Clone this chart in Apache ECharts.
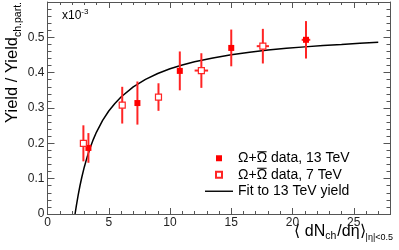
<!DOCTYPE html>
<html><head><meta charset="utf-8">
<script src="https://cdn.jsdelivr.net/npm/echarts@6/dist/echarts.min.js"></script>
<style>html,body{margin:0;padding:0;background:#fff}#c{width:399px;height:250px}</style>
</head><body><div id="c"></div>
<script>
// 13 TeV data (filled squares), values in units of 1e-3
const x13 = [3.34, 7.34, 10.8, 15.0, 21.1];
const y13 = [0.187, 0.314, 0.405, 0.470, 0.493];
const yErr13 = [0.042, 0.061, 0.055, 0.052, 0.053];
const xErr13 = [0, 0, 0, 0, 0.35];
// 7 TeV data (open squares)
const x7 = [2.93, 6.1, 9.06, 12.56, 17.58];
const y7 = [0.200, 0.308, 0.331, 0.406, 0.475];
const yErr7 = [0.051, 0.052, 0.039, 0.049, 0.049];
const xErr7 = [0, 0, 0, 0.55, 0.5];
// Fit curve
const fitX = [2.25, 2.35, 2.5, 2.65, 2.8, 3.0, 3.25, 3.5, 3.75, 4, 4.5, 5, 5.5, 6, 7, 8, 9, 10, 11, 12, 13.5, 15, 16.5, 18, 19.5, 21, 22.5, 24, 25.5, 27];
const fitY = [0, 0.0226, 0.053, 0.080, 0.104, 0.1325, 0.163, 0.189, 0.212, 0.232, 0.265, 0.2915, 0.313, 0.331, 0.360, 0.381, 0.3975, 0.411, 0.4216, 0.431, 0.4417, 0.4505, 0.4577, 0.464, 0.4688, 0.473, 0.477, 0.480, 0.4833, 0.486];
// Axis ranges / ticks
const xRange = [0, 28];
const yRange = [0, 0.6];
const xMajor = 5, xMinor = 1, yMajor = 0.1;
const names = ['Ω+Ω data, 13 TeV', 'Ω+Ω data, 7 TeV', 'Fit to 13 TeV yield'];

const FONT = '"Liberation Sans", Arial, Helvetica, sans-serif';
const AX = '#555';
const RED = '#ff2424';
const LEG_LEFT = 205, LEG_TOP = 150, LEG_ROW = 16.5, LEG_FS = 14;

function zip(...a) { return a[0].map((_, i) => a.map(arr => arr[i])); }

function errRender(params, api) {
  const x = api.value(0), y = api.value(1), ey = api.value(2), ex = api.value(3);
  const children = [];
  const p1 = api.coord([x, y - ey]), p2 = api.coord([x, y + ey]);
  children.push({ type: 'line', shape: { x1: p1[0], y1: p1[1], x2: p2[0], y2: p2[1] }, style: { stroke: RED, lineWidth: 2 } });
  if (ex > 0) {
    const q1 = api.coord([x - ex, y]), q2 = api.coord([x + ex, y]);
    children.push({ type: 'line', shape: { x1: q1[0], y1: q1[1], x2: q2[0], y2: q2[1] }, style: { stroke: RED, lineWidth: 2 } });
  }
  return { type: 'group', children };
}

function xAx(pos, interval, len, labels) {
  return {
    type: 'value', position: pos, min: xRange[0], max: xRange[1], interval: interval,
    axisLine: { show: true, onZero: false, lineStyle: { color: AX, width: 1 } },
    axisTick: { show: true, inside: true, length: len, lineStyle: { color: AX } },
    axisLabel: labels ? { show: true, margin: 3, fontSize: 12, color: '#222', fontFamily: FONT, showMaxLabel: false,
      formatter: v => (Math.abs(v % xMajor) < 1e-9 ? String(v) : '') } : { show: false },
    splitLine: { show: false }
  };
}
function yAx(pos, labels) {
  return {
    type: 'value', position: pos, min: yRange[0], max: yRange[1], interval: yMajor,
    axisLine: { show: true, onZero: false, lineStyle: { color: AX, width: 1 } },
    axisTick: { show: true, inside: true, length: 7, lineStyle: { color: AX } },
    minorTick: { show: true, splitNumber: 5, length: 4, lineStyle: { color: AX } },
    axisLabel: labels ? { show: true, margin: 3, fontSize: 12, color: '#222', fontFamily: FONT, showMaxLabel: false } : { show: false },
    splitLine: { show: false }
  };
}

// overline bars over the anti-Omega in the first two legend entries
const mctx = document.createElement('canvas').getContext('2d');
mctx.font = LEG_FS + 'px ' + FONT;
const ovStart = mctx.measureText('Ω+').width;
const ovW = mctx.measureText('Ω').width;
const textX = LEG_LEFT + 28 + 5;
const overlines = [0, 1].map(i => {
  const cy = LEG_TOP + LEG_ROW / 2 + i * LEG_ROW - 6.5;
  return { type: 'line', z: 100, shape: { x1: textX + ovStart + 0.5, y1: cy, x2: textX + ovStart + ovW - 0.5, y2: cy },
    style: { stroke: '#000', lineWidth: 1 } };
});

const chart = echarts.init(document.getElementById('c'), null, { renderer: 'canvas' });
chart.setOption({
  animation: false,
  backgroundColor: '#fff',
  textStyle: { fontFamily: FONT },
  grid: { left: 47.5, right: 8.5, top: 2, bottom: 36, containLabel: false },
  xAxis: [xAx('bottom', xMinor, 3, false), xAx('bottom', xMajor, 6, true), xAx('top', xMinor, 3, false), xAx('top', xMajor, 6, false)],
  yAxis: [yAx('left', true), yAx('right', false)],
  legend: {
    orient: 'vertical', left: LEG_LEFT, top: LEG_TOP, padding: 0, itemWidth: 28, itemHeight: 6, itemGap: 0,
    selectedMode: false, symbolKeepAspect: true,
    textStyle: { fontSize: LEG_FS, color: '#000', fontFamily: FONT, lineHeight: LEG_ROW, padding: [0, 0, 0, 0] },
    data: [
      { name: names[0], icon: 'path://M0,0h6v6h-6z' },
      { name: names[1], icon: 'path://M0,0h6v6h-6z' },
      { name: names[2], icon: 'path://M0,0h28v1.4h-28z' }
    ]
  },
  series: [
    { type: 'custom', name: 'err13', xAxisIndex: 0, yAxisIndex: 0, renderItem: errRender,
      data: zip(x13, y13, yErr13, xErr13), encode: { x: 0, y: 1 }, z: 3 },
    { type: 'custom', name: 'err7', xAxisIndex: 0, yAxisIndex: 0, renderItem: errRender,
      data: zip(x7, y7, yErr7, xErr7), encode: { x: 0, y: 1 }, z: 3 },
    { type: 'line', name: names[2], xAxisIndex: 0, yAxisIndex: 0, data: zip(fitX, fitY),
      showSymbol: false, symbol: 'none', smooth: false, clip: true,
      lineStyle: { color: '#000', width: 1.5 }, itemStyle: { color: '#000' }, z: 2 },
    { type: 'scatter', name: names[0], xAxisIndex: 0, yAxisIndex: 0, data: zip(x13, y13),
      symbol: 'rect', symbolSize: 6, itemStyle: { color: '#ff0000', opacity: 1 }, z: 5 },
    { type: 'scatter', name: names[1], xAxisIndex: 0, yAxisIndex: 0, data: zip(x7, y7),
      symbol: 'rect', symbolSize: 6, itemStyle: { color: '#fff', borderColor: RED, borderWidth: 1.2, opacity: 1 }, z: 5 }
  ],
  graphic: [
    { type: 'text', left: 62, top: 8, style: { text: '{a|x10}{b|-3}', rich: {
        a: { fontSize: 12, fontFamily: FONT, fill: '#000', lineHeight: 14, verticalAlign: 'bottom' },
        b: { fontSize: 8, fontFamily: FONT, fill: '#000', lineHeight: 10, verticalAlign: 'top' } } } },
    { type: 'text', x: 14, y: 2, rotation: Math.PI / 2, style: {
        text: '{a|Yield / Yield}{b|ch.part.}', align: 'right', verticalAlign: 'middle', rich: {
          a: { fontSize: 16.5, fontFamily: FONT, fill: '#000', lineHeight: 20, verticalAlign: 'top' },
          b: { fontSize: 10.5, fontFamily: FONT, fill: '#000', lineHeight: 11, padding: [11, 0, 0, 0], verticalAlign: 'bottom' } } } },
    { type: 'text', x: 393, y: 233, style: {
        text: '{a|⟨ dN}{b|ch}{a|/dη⟩}{c||η|<0.5}', align: 'right', verticalAlign: 'middle', rich: {
          a: { fontSize: 16, fontFamily: FONT, fill: '#000', lineHeight: 18, verticalAlign: 'top' },
          b: { fontSize: 10.5, fontFamily: FONT, fill: '#000', lineHeight: 10, padding: [9, 1, 0, 0], verticalAlign: 'bottom' },
          c: { fontSize: 9, fontFamily: FONT, fill: '#000', lineHeight: 9, padding: [13, 0, 0, 0], verticalAlign: 'bottom' } } } }
  ].concat(overlines)
});
</script></body></html>
